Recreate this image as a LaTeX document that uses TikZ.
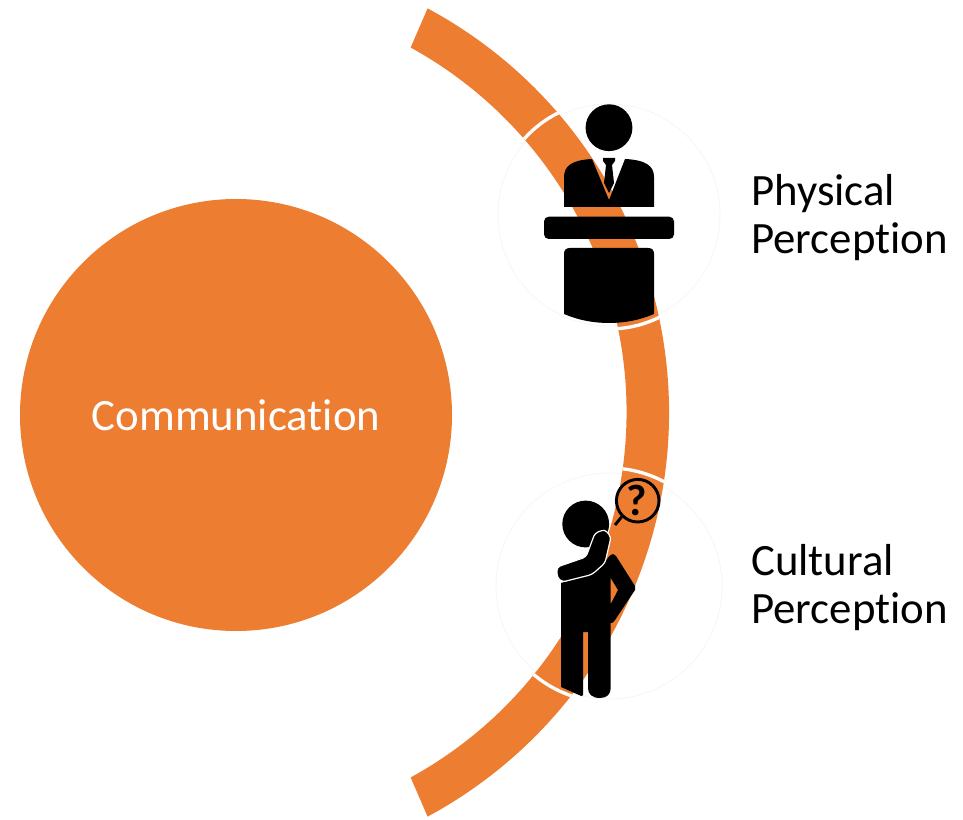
\documentclass[tikz,border=0pt]{standalone}
\usepackage{fontspec}
\usetikzlibrary{calc}
\setmainfont[Ligatures=CommonOff]{Carlito}
\definecolor{accent}{RGB}{237,125,49}
\tikzset{
  hub/.style={circle,fill=accent,draw=none,minimum size=432*0.75pt,inner sep=0pt,text=white,font=\fontsize{33.6pt}{38pt}\selectfont},
  caption/.style={anchor=west,align=left,inner sep=0pt,font=\fontsize{33.6pt}{36pt}\selectfont},
  ringline/.style={draw=black!4,line width=0.6pt,fill=none},
  gap/.style={draw=white,line width=2.5pt},
  icon/.style={fill=black,draw=none}
}
\begin{document}
\begin{tikzpicture}[x=0.75pt,y=0.75pt]
\useasboundingbox (0,0) rectangle (963,819);
\def\band{(210,406.5) ++(61.7:459) arc[start angle=61.7,end angle=-61.7,radius=459] -- ($(210,406.5)+(-61.2:416.5)$) arc[start angle=-61.2,end angle=61.2,radius=416.5] -- cycle}
% rings
\begin{scope}[shift={(0,819)},yscale=-1]
  \draw[ringline] (609,215) circle[radius=111];
  \draw[ringline] (609,586) circle[radius=113];
\end{scope}
\fill[accent] \band;
\begin{scope}
  \clip \band;
  \begin{scope}[shift={(0,819)},yscale=-1]
    \draw[gap] (609,215) circle[radius=114];
    \draw[gap] (609,585) circle[radius=117];
  \end{scope}
\end{scope}
\node[hub] (comm) at (236,404) {Communication};
\node[caption] (phys) at (751,601) {Physical\\Perception};
\node[caption] (cult) at (751,231) {Cultural\\Perception};
\begin{scope}[shift={(0,819)},yscale=-1]
  % speaker
  \fill[icon] (609,127.7) circle[radius=23.4];
  \fill[icon] (564,207) -- (564,177) .. controls (564,166) and (572,160) .. (592,159) -- (609,200) -- (625,159) .. controls (646,160) and (654,166) .. (654,177) -- (654,207) -- cycle;
  \fill[icon] (603,158) -- (615,158) -- (615,161) -- (612,165) -- (614,183) -- (609,193) -- (604,183) -- (606,165) -- (603,161) -- cycle;
  \fill[icon,rounded corners=3.5pt] (544,216.7) rectangle (674,239);
  \fill[icon] (564,254) .. controls (564,250) and (566,248) .. (570,248) -- (648,248) .. controls (652,248) and (654,250) .. (654,254) -- (654,314) .. controls (640,320) and (625,323) .. (609,323) .. controls (593,323) and (578,320) .. (564,314) -- cycle;
  % thinker
  \fill[icon] (585.7,524) circle[radius=23.4];
  \draw[line width=2.2pt] (637.7,500.7) circle[radius=21.3];
  \draw[line width=2.2pt] (621.7,516.7) -- (615,525);
  \node[font=\fontsize{33pt}{33pt}\selectfont\bfseries,inner sep=0pt] (qm) at (636.5,500.7) {?};
  % body
  \fill[icon,even odd rule] (561,583) -- (592,574) -- (610.7,555) .. controls (612,553) and (614,554) .. (616,556) -- (635,586) .. controls (636,589) and (635,591) .. (633,593) -- (615,620) .. controls (613,623) and (612,623) .. (610.7,623) -- (610.7,688) .. controls (610.7,694) and (607,698) .. (600,698) .. controls (592,698) and (588,694) .. (588,688) -- (588,632) -- (583,632) -- (583,695) .. controls (583,697) and (581,696) .. (579,695) -- (561,687) -- cycle
    (610.7,578) -- (618,590) -- (610.7,604) -- cycle;
  % raised arm with white outline
  \fill[icon,draw=white,line width=0.9pt,rounded corners=2.5pt] (557,567) -- (586,557) -- (595,533) -- (605,529.5) -- (611,537) -- (605,563) -- (592,574.5) -- (562,582) -- (557,577) -- cycle;
\end{scope}
\end{tikzpicture}
\end{document}
